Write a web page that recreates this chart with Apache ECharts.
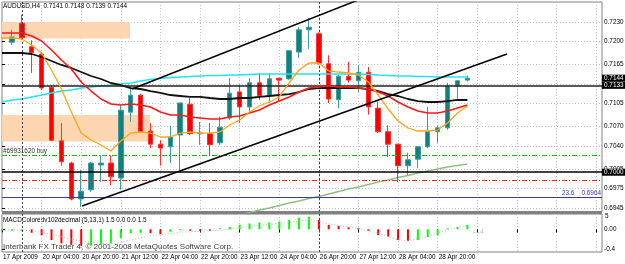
<!DOCTYPE html>
<html>
<head>
<meta charset="utf-8">
<script src="https://cdn.jsdelivr.net/npm/echarts@6/dist/echarts.min.js"></script>
<style>
  html, body { margin: 0; padding: 0; background: #fff; }
  #container { width: 625px; height: 264px; }
</style>
</head>
<body>
<div id="container"></div>
<script>
var dom = document.getElementById("container");
var myChart = echarts.init(dom, null, { renderer: "canvas" });
var option;

// bar position on the x axis = bar index + 1 (0 is the left edge of the chart)
const timeLabels = [
  "17 Apr 2009", "20 Apr 04:00", "20 Apr 20:00", "21 Apr 12:00",
  "22 Apr 04:00", "22 Apr 20:00", "23 Apr 12:00", "24 Apr 04:00",
  "26 Apr 20:00", "27 Apr 12:00", "28 Apr 04:00", "28 Apr 20:00",
];
const priceTicks = [0.723, 0.72, 0.7165, 0.7135, 0.7105, 0.707, 0.704, 0.7005, 0.6975, 0.6945];
const macdTicks = [0, -0.4];

// open, close, low, high
const candles = [
  [0.7199, 0.7207, 0.7195, 0.7218], [0.7228, 0.7206, 0.7202, 0.7241],
  [0.7192, 0.7183, 0.7152, 0.7202], [0.7181, 0.7129, 0.7126, 0.7184],
  [0.7130, 0.7049, 0.7048, 0.7132], [0.7048, 0.7016, 0.7010, 0.7075],
  [0.7014, 0.6959, 0.6957, 0.7016], [0.6959, 0.6971, 0.6947, 0.7003],
  [0.6973, 0.7014, 0.6970, 0.7016], [0.7011, 0.7014, 0.6985, 0.7026],
  [0.7014, 0.6993, 0.6980, 0.7026], [0.6991, 0.7095, 0.6973, 0.7103],
  [0.7092, 0.7118, 0.7077, 0.7129], [0.7118, 0.7062, 0.7060, 0.7120],
  [0.7063, 0.7043, 0.7037, 0.7075], [0.7043, 0.7037, 0.7010, 0.7049],
  [0.7039, 0.7054, 0.7014, 0.7071], [0.7057, 0.7106, 0.7003, 0.7106],
  [0.7104, 0.7059, 0.7057, 0.7114], [0.7059, 0.7060, 0.7042, 0.7077],
  [0.7059, 0.7042, 0.7026, 0.7075], [0.7045, 0.7069, 0.7042, 0.7085],
  [0.7083, 0.7121, 0.7080, 0.7144], [0.7123, 0.7100, 0.7075, 0.7134],
  [0.7100, 0.7137, 0.7092, 0.7144], [0.7137, 0.7117, 0.7111, 0.7152],
  [0.7118, 0.7143, 0.7106, 0.7152], [0.7144, 0.7141, 0.7108, 0.7144],
  [0.7143, 0.7186, 0.7141, 0.7186], [0.7184, 0.7218, 0.7175, 0.7222],
  [0.7218, 0.7222, 0.7189, 0.7236], [0.7212, 0.7167, 0.7165, 0.7214],
  [0.7166, 0.7112, 0.7106, 0.7179], [0.7111, 0.7147, 0.7098, 0.7149],
  [0.7147, 0.7141, 0.7137, 0.7169], [0.7140, 0.7153, 0.7123, 0.7164],
  [0.7153, 0.7100, 0.7088, 0.7161], [0.7098, 0.7062, 0.7060, 0.7108],
  [0.7062, 0.7043, 0.7023, 0.7072], [0.7043, 0.7010, 0.6985, 0.7043],
  [0.7010, 0.7019, 0.6996, 0.7030], [0.7020, 0.7039, 0.7006, 0.7039],
  [0.7039, 0.7062, 0.7037, 0.7100], [0.7062, 0.7068, 0.7045, 0.7071],
  [0.7068, 0.7132, 0.7065, 0.7137], [0.7132, 0.7140, 0.7111, 0.7141],
  [0.7141, 0.7144, 0.7139, 0.7148],
];

// moving averages, first value sits on the left edge
const maFast = [0.72055, 0.72055, 0.72040, 0.71948, 0.71825, 0.71565, 0.71274, 0.70922, 0.70600, 0.70493,
  0.70417, 0.70325, 0.70478, 0.70600, 0.70616, 0.70600, 0.70539, 0.70539, 0.70600, 0.70616,
  0.70600, 0.70600, 0.70616, 0.70723, 0.70800, 0.70922, 0.71014, 0.71075, 0.71152, 0.71366,
  0.71565, 0.71672, 0.71672, 0.71550, 0.71534, 0.71519, 0.71488, 0.71381, 0.71182, 0.70968,
  0.70784, 0.70677, 0.70631, 0.70631, 0.70646, 0.70754, 0.70907, 0.71014];
const maMid = [0.72131, 0.72131, 0.72131, 0.72085, 0.72009, 0.71871, 0.71718, 0.71580, 0.71381, 0.71243,
  0.71121, 0.71044, 0.71029, 0.71044, 0.71029, 0.70998, 0.70922, 0.70876, 0.70876, 0.70845,
  0.70830, 0.70815, 0.70815, 0.70845, 0.70861, 0.70907, 0.70953, 0.71029, 0.71090, 0.71152,
  0.71228, 0.71289, 0.71305, 0.71320, 0.71305, 0.71305, 0.71289, 0.71274, 0.71228, 0.71167,
  0.71075, 0.70998, 0.70937, 0.70907, 0.70907, 0.70937, 0.70983, 0.71029];
const maSlow = [0.71825, 0.71825, 0.71825, 0.71810, 0.71764, 0.71703, 0.71642, 0.71596, 0.71534, 0.71473,
  0.71427, 0.71366, 0.71335, 0.71289, 0.71274, 0.71243, 0.71213, 0.71182, 0.71167, 0.71152,
  0.71152, 0.71136, 0.71121, 0.71121, 0.71136, 0.71136, 0.71152, 0.71167, 0.71182, 0.71197,
  0.71228, 0.71274, 0.71289, 0.71289, 0.71289, 0.71289, 0.71289, 0.71274, 0.71243, 0.71197,
  0.71167, 0.71121, 0.71090, 0.71075, 0.71075, 0.71090, 0.71106, 0.71106];
const maLong = [0.71075, 0.71106, 0.71121, 0.71152, 0.71182, 0.71213, 0.71243, 0.71259, 0.71289, 0.71305,
  0.71320, 0.71335, 0.71351, 0.71366, 0.71397, 0.71419, 0.71435, 0.71450, 0.71458, 0.71465,
  0.71473, 0.71481, 0.71481, 0.71488, 0.71488, 0.71496, 0.71504, 0.71504, 0.71504, 0.71504,
  0.71504, 0.71504, 0.71504, 0.71504, 0.71504, 0.71504, 0.71504, 0.71496, 0.71488, 0.71481,
  0.71473, 0.71473, 0.71465, 0.71465, 0.71458, 0.71458, 0.71458, 0.71458];
// very long average, starts at bar position 24
const maVeryLongStart = 24;
const maVeryLong = [0.69345, 0.69383, 0.69422, 0.69452, 0.69490, 0.69529, 0.69559, 0.69598, 0.69628,
  0.69667, 0.69705, 0.69743, 0.69774, 0.69812, 0.69850, 0.69881, 0.69919, 0.69950, 0.69988,
  0.70019, 0.70049, 0.70080, 0.70103, 0.70126];

// MACD histogram and its signal, first value on the left edge
const macdHist = [-0.03, -0.03, -0.03, -0.07, -0.12, -0.22, -0.29, -0.32, -0.34, -0.33,
  -0.32, -0.29, -0.18, -0.08, -0.07, -0.08, -0.10, -0.05, -0.02, -0.03,
  -0.03, -0.03, 0.02, 0.05, 0.09, 0.12, 0.14, 0.14, 0.16, 0.19,
  0.24, 0.26, 0.19, 0.09, 0.07, 0.04, 0.03, -0.03, -0.12, -0.15,
  -0.22, -0.24, -0.22, -0.16, -0.12, 0.02, 0.05, 0.09];
const macdTrend = ["up", "up", "up", "dn", "dn", "dn", "dn", "dn", "dn", "up",
  "up", "up", "up", "up", "up", "dn", "dn", "up", "up", "dn",
  "dn", "dn", "up", "up", "up", "up", "up", "up", "up", "up",
  "up", "up", "dn", "dn", "dn", "dn", "dn", "dn", "dn", "dn",
  "dn", "dn", "up", "up", "up", "up", "up", "up"];
const macdSignal = [-0.01, -0.01, -0.02, -0.03, -0.06, -0.10, -0.15, -0.20, -0.24, -0.27,
  -0.29, -0.30, -0.27, -0.22, -0.17, -0.13, -0.11, -0.09, -0.06, -0.05,
  -0.04, -0.03, -0.02, 0.0, 0.03, 0.06, 0.08, 0.10, 0.12, 0.14,
  0.17, 0.20, 0.16, 0.11, 0.08, 0.05, 0.02, -0.03, -0.08, -0.15,
  -0.22, -0.23, -0.20, -0.15, -0.07, -0.01, 0.04, 0.08];

// drawn objects: trend lines [position, price], zones, levels
const upperTrend = [[13.13, 0.71274], [38.0, 0.72758]];
const lowerTrend = [[8.08, 0.69483], [51.01, 0.7181]];
const zones = [
  [[0, 0.723], [12.93, 0.72047]],
  [[0, 0.70876], [14.95, 0.7047]],
];
const weekStarts = [2, 32];
const bidPrice = 0.7144;
const pivotLevel = 0.7133;
const roundLevel = 0.7;
const orderPrice = 0.7026;
const stopPrice = 0.6987;
const fiboPrice = 0.6962;

const font = "Liberation Sans";
const small = 6.4;

function line(data, color, width, z) {
  return {
    type: "line", xAxisIndex: 0, yAxisIndex: 0, data: data,
    showSymbol: false, symbol: "none", z: z || 4, silent: true,
    lineStyle: { color: color, width: width },
  };
}
function fromEdge(arr, start) {
  return arr.map(function (v, i) { return [i + (start || 0), v]; });
}
function priceBox(v, text, lineStyle) {
  return {
    yAxis: v, lineStyle: lineStyle,
    label: {
      show: true, position: "end", distance: 0, formatter: text, opacity: 1,
      backgroundColor: "#000", color: "#fff", fontSize: small, padding: [1, 3, 0, 2],
      fontFamily: font,
    },
  };
}

option = {
  animation: false,
  backgroundColor: "#fff",
  textStyle: { fontFamily: font },
  grid: [
    { left: 2, top: 2, width: 600, height: 210, show: true, borderColor: "#808080", borderWidth: 1, outerBoundsMode: "none" },
    { left: 2, top: 214, width: 600, height: 38, show: true, borderColor: "#808080", borderWidth: 1, outerBoundsMode: "none" },
  ],
  xAxis: [
    {
      type: "value", gridIndex: 0, min: 0, max: 60.6, interval: 4,
      axisLine: { show: false }, axisTick: { show: false }, axisLabel: { show: false },
      splitLine: { show: true, lineStyle: { color: "#c4c4c4", type: [1, 2] } },
    },
    {
      type: "value", gridIndex: 1, min: 0, max: 60.6, interval: 4,
      axisLine: { show: false },
      axisTick: { show: true, length: 3, lineStyle: { color: "#000" } },
      axisLabel: {
        show: true, align: "left", margin: 2, padding: [0, 0, 0, 1],
        fontSize: small, color: "#000", showMaxLabel: false,
        formatter: function (v) { return timeLabels[v / 4] || ""; },
      },
      splitLine: { show: true, lineStyle: { color: "#c4c4c4", type: [1, 2] } },
    },
  ],
  yAxis: [
    {
      type: "value", gridIndex: 0, position: "right", min: 0.69391, max: 0.72606, scale: true,
      axisLine: { show: false },
      axisTick: { show: true, length: 3, customValues: priceTicks, lineStyle: { color: "#000" } },
      axisLabel: {
        show: true, margin: 2, fontSize: small, color: "#000", customValues: priceTicks,
        formatter: function (v) { return v.toFixed(4); },
      },
      splitLine: { show: true, lineStyle: { color: "#c4c4c4", type: [1, 2] } },
    },
    {
      type: "value", gridIndex: 1, position: "right", min: -0.466, max: 0.314,
      axisLine: { show: false },
      axisTick: { show: true, length: 3, customValues: macdTicks, lineStyle: { color: "#000" } },
      axisLabel: {
        show: true, margin: 2, fontSize: small, color: "#000", customValues: macdTicks,
        formatter: function (v) { return v === 0 ? "0.00" : v.toFixed(1); },
      },
      splitLine: { show: false },
    },
  ],
  series: [
    Object.assign(line(fromEdge(maVeryLong, maVeryLongStart), "#8fbf85", 1.5, 1), {
      markArea: {
        silent: true,
        itemStyle: { color: "#fbd6b0" },
        data: zones.map(function (z) { return [{ coord: z[0] }, { coord: z[1] }]; }),
      },
    }),
    {
      type: "candlestick", xAxisIndex: 0, yAxisIndex: 0, z: 2, silent: true,
      barWidth: 5,
      data: candles.map(function (c, i) { return [i + 1, c[0], c[1], c[2], c[3]]; }),
      itemStyle: {
        color: "#137f7f", color0: "#ff0000",
        borderColor: "#3d9d9d", borderColor0: "#ff3030", borderWidth: 1,
      },
      markLine: {
        silent: true, symbol: ["none", "none"], precision: 5,
        data: [
          { xAxis: weekStarts[0], lineStyle: { color: "#444", type: [2, 2], width: 1 }, label: { show: false } },
          { xAxis: weekStarts[1], lineStyle: { color: "#444", type: [2, 2], width: 1 }, label: { show: false } },
          {
            yAxis: orderPrice, lineStyle: { color: "#00c000", type: [5, 2, 1, 2], width: 1 },
            label: { show: true, position: "insideStartTop", distance: 1, formatter: "#69931620 buy", color: "#333", fontSize: small, fontFamily: font },
          },
          { yAxis: stopPrice, lineStyle: { color: "#ff2020", type: [5, 2, 1, 2], width: 1 }, label: { show: false } },
          {
            yAxis: fiboPrice, lineStyle: { color: "#3c3c96", type: "solid", width: 1 },
            label: { show: true, position: "insideEndTop", distance: 1, formatter: "23.6    0.6964", color: "#3c3c96", fontSize: small, fontFamily: font },
          },
          priceBox(bidPrice, "0.7144", { color: "rgba(0,0,0,0)", width: 1 }),
          priceBox(pivotLevel, "0.7133", { color: "#222", type: "solid", width: 1.5 }),
          priceBox(roundLevel, "0.7000", { color: "#000", type: "solid", width: 1.5 }),
        ],
      },
    },
    line(fromEdge(maLong), "#22e4f0", 1.5, 3),
    line(fromEdge(maSlow), "#111", 1.8, 4),
    line(fromEdge(maMid), "#ff1a1a", 1.6, 5),
    line(fromEdge(maFast), "#ffa514", 1.3, 6),
    line(upperTrend, "#000", 1.5, 7),
    line(lowerTrend, "#000", 1.5, 7),
    {
      type: "bar", xAxisIndex: 1, yAxisIndex: 1, barWidth: 2, silent: true,
      data: macdHist.map(function (v, n) {
        return { value: [n, v], itemStyle: { color: macdTrend[n] === "up" ? "#00ff00" : "#ff0000" } };
      }),
      markLine: {
        silent: true, symbol: ["none", "none"], label: { show: false },
        lineStyle: { color: "#444", type: [2, 2], width: 1 },
        data: weekStarts.map(function (w) { return { xAxis: w }; }),
      },
    },
    {
      type: "line", xAxisIndex: 1, yAxisIndex: 1, showSymbol: false, symbol: "none", silent: true,
      data: fromEdge(macdSignal),
      lineStyle: { color: "#b8b8b8", width: 1, type: [1, 2] },
    },
  ],
  graphic: {
    elements: [
      { type: "text", left: 3, top: 3, silent: true,
        style: { text: "AUDUSD,H4  0.7141 0.7148 0.7139 0.7144", font: small + "px " + font, fill: "#000" } },
      { type: "text", left: 3, top: 217, silent: true,
        style: { text: "MACDColoredv102decimal (5,13,1) 1.5 0.0 0.0 1.5", font: small + "px " + font, fill: "#000" } },
      { type: "text", left: 3, top: 243, silent: true,
        style: { text: "Interbank FX Trader 4, \u00a9 2001-2008 MetaQuotes Software Corp.", font: "8px " + font, fill: "#3a3a3a" } },
      { type: "text", left: 605, top: 213, silent: true,
        style: { text: "5", font: small + "px " + font, fill: "#000" } },
      { type: "text", left: 473, top: 229, silent: true,
        style: { text: "\u20144", font: "7px " + font, fill: "#c0c0c0" } },
      { type: "rect", silent: true, shape: { x: 2, y: 211, width: 600, height: 3 }, style: { fill: "#808080" } },
    ],
  },
};

myChart.setOption(option);
window.addEventListener("resize", myChart.resize);
</script>
</body>
</html>
